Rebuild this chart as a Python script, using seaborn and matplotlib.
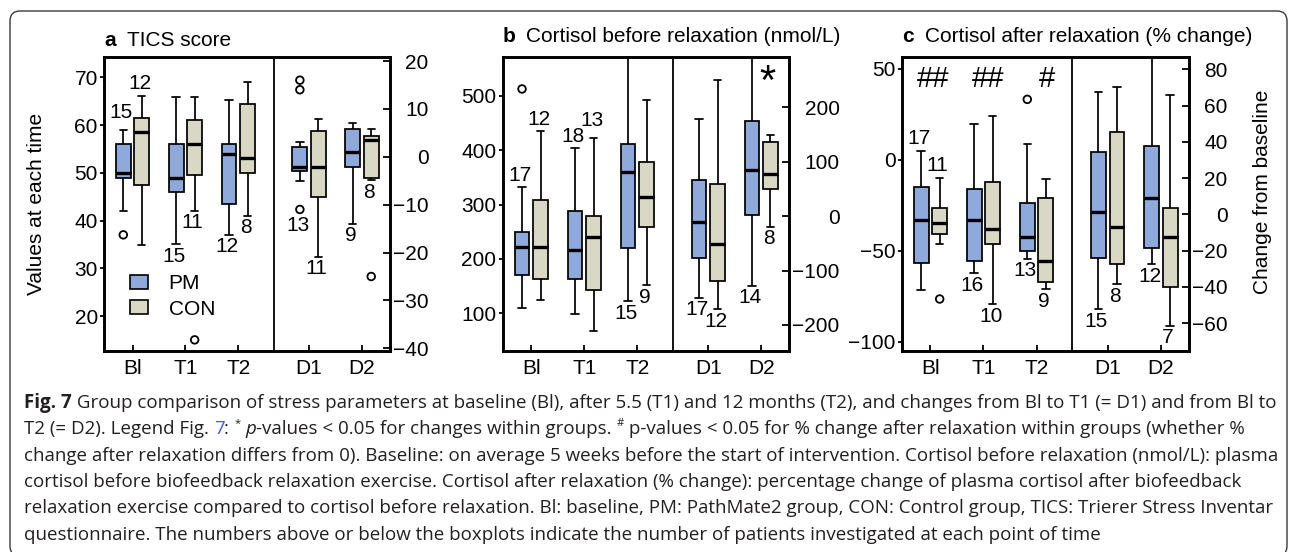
import numpy as np
import pandas as pd
import matplotlib
matplotlib.use("Agg")
import matplotlib.pyplot as plt
import seaborn as sns
from matplotlib.patches import Patch, FancyBboxPatch
from matplotlib.transforms import IdentityTransform

# ---------------- data ----------------
TIMES = ["Bl", "T1", "T2", "D1", "D2"]
GROUPS = ["PM", "CON"]

# five-number summaries per time point: [lower whisker, Q1, median, Q3, upper whisker]
TICS_PM = [[42.0, 48.9, 50.0, 56.0, 59.0], [35.0, 46.0, 49.0, 56.0, 65.9], [37.0, 43.5, 54.0, 56.0, 65.2],
           [-5.0, -3.0, -2.2, 2.0, 3.0], [-14.0, -2.1, 1.0, 5.9, 7.1]]
TICS_CON = [[34.9, 47.5, 58.5, 61.5, 66.1], [42.0, 49.5, 56.0, 61.1, 65.9], [41.0, 50.0, 53.0, 64.5, 69.0],
            [-20.9, -8.5, -2.1, 5.4, 7.8], [-4.9, -4.5, 3.5, 4.4, 5.9]]
TICS_PM_OUT = [[37.0], [], [], [16.0, 14.0, -11.0], []]
TICS_CON_OUT = [[], [15.0], [], [], [-25.0]]
TICS_N_PM = [15, 15, 12, 13, 9]
TICS_N_CON = [12, 11, 8, 11, 8]

CORT_PM = [[110.3, 170.4, 221.3, 248.9, 331.6], [99.3, 163.1, 216.4, 288.6, 403.9], [122.6, 219.5, 359.2, 412.5, 600.0],
           [-149.8, -77.4, -10.2, 66.4, 178.0], [-127.7, 1.6, 84.8, 174.8, 320.0]]
CORT_CON = [[125.0, 162.5, 221.3, 308.3, 435.1], [68.0, 142.2, 239.7, 278.9, 422.8], [151.5, 258.1, 313.2, 377.6, 493.4],
            [-171.1, -119.1, -51.7, 59.6, 250.7], [-19.4, 49.3, 78.0, 136.8, 149.7]]
CORT_PM_OUT = [[512.9], [], [], [], []]
CORT_CON_OUT = [[], [], [], [], []]
CORT_N_PM = [17, 18, 15, 17, 14]
CORT_N_CON = [12, 13, 9, 12, 8]

RELAX_PM = [[-71.6, -56.9, -33.1, -14.7, 5.1], [-62.4, -55.6, -33.2, -16.0, 19.6], [-54.5, -50.3, -42.6, -23.5, 8.9],
            [-52.3, -23.9, 1.5, 34.6, 67.3], [-27.5, -18.3, 8.9, 37.7, 95.0]]
RELAX_CON = [[-46.4, -40.9, -34.5, -26.3, -9.8], [-79.3, -46.4, -38.2, -12.3, 24.1], [-71.2, -67.3, -55.4, -21.1, -10.5],
             [-38.4, -27.5, -7.1, 45.4, 70.4], [-61.3, -39.8, -12.3, 3.7, 66.0]]
RELAX_PM_OUT = [[], [], [33.3], [], []]
RELAX_CON_OUT = [[-76.5], [], [], [], []]
RELAX_N_PM = [17, 16, 13, 15, 12]
RELAX_N_CON = [11, 10, 9, 8, 7]

CORT_MARKS = [("D2", "*")]
RELAX_MARKS = [("Bl", "##"), ("T1", "##"), ("T2", "#")]

CAPTION = [
    [("Fig. 7", "b"), (" Group comparison of stress parameters at baseline (Bl), after 5.5 (T1) and 12 months (T2), "
                       "and changes from Bl to T1 (= D1) and from Bl to", "n")],
    [("T2 (= D2). Legend Fig. ", "n"), ("7", "link"), (": ", "n"), ("*", "sup"), (" ", "n"), ("p", "i"),
     ("-values < 0.05 for changes within groups. ", "n"), ("#", "sup"),
     (" p-values < 0.05 for % change after relaxation within groups (whether %", "n")],
    [("change after relaxation differs from 0). Baseline: on average 5 weeks before the start of intervention. "
      "Cortisol before relaxation (nmol/L): plasma", "n")],
    [("cortisol before biofeedback relaxation exercise. Cortisol after relaxation (% change): percentage change "
      "of plasma cortisol after biofeedback", "n")],
    [("relaxation exercise compared to cortisol before relaxation. Bl: baseline, PM: PathMate2 group, CON: Control "
      "group, TICS: Trierer Stress Inventar", "n")],
    [("questionnaire. The numbers above or below the boxplots indicate the number of patients investigated at "
      "each point of time", "n")],
]

# ---------------- layout / style ----------------
W, H = 1290, 552
FS = 15
PALETTE = {"PM": "#8FA9DB", "CON": "#D8D8C5"}
TIME_POS = {"Bl": 0.0, "T1": 1.0, "T2": 2.0, "D1": 3.34, "D2": 4.34}
DODGE = {"PM": -0.175, "CON": 0.175}
LEFT_TIMES = ["Bl", "T1", "T2"]
RIGHT_TIMES = ["D1", "D2"]
DIVIDER = 2.67
XLIM = (-0.54, 4.87)

sns.set_theme(style="ticks", rc={
    "axes.edgecolor": "black", "text.color": "black", "xtick.color": "black",
    "ytick.color": "black", "axes.labelcolor": "black"})
plt.rcParams["font.family"] = ["Liberation Sans", "DejaVu Sans"]

PANELS = [
    dict(key="a", title="TICS score", rect=(104, 57, 390, 351), title_base=46.5,
         pm=TICS_PM, con=TICS_CON, pm_out=TICS_PM_OUT, con_out=TICS_CON_OUT,
         n_pm=TICS_N_PM, n_con=TICS_N_CON,
         lab_pm=["A", "b", "b", "o", "b"], lab_con=["a", "b", "b", "b", "b"],
         ylim_l=(12.67, 74.25), ylim_r=(-40.56, 20.84),
         yt_l=[20, 30, 40, 50, 60, 70], yt_r=[-40, -30, -20, -10, 0, 10, 20], marks=[], mark_kw={}),
    dict(key="b", title="Cortisol before relaxation (nmol/L)", rect=(502.7, 57, 789.3, 351), title_base=42.3,
         pm=CORT_PM, con=CORT_CON, pm_out=CORT_PM_OUT, con_out=CORT_CON_OUT,
         n_pm=CORT_N_PM, n_con=CORT_N_CON,
         lab_pm=["a", "a", "b", "b", "b"], lab_con=["a", "A", "b", "b", "b"],
         ylim_l=(30.7, 571.7), ylim_r=(-247.8, 292.4),
         yt_l=[100, 200, 300, 400, 500], yt_r=[-200, -100, 0, 100, 200],
         marks=CORT_MARKS, mark_kw=dict(dx={"D2": 0.11}, y=245.0, size=30, right=True)),
    dict(key="c", title="Cortisol after relaxation (% change)", rect=(901.7, 57, 1189, 351), title_base=42.3,
         pm=RELAX_PM, con=RELAX_CON, pm_out=RELAX_PM_OUT, con_out=RELAX_CON_OUT,
         n_pm=RELAX_N_PM, n_con=RELAX_N_CON,
         lab_pm=["a", "b", "b", "b", "b"], lab_con=["a", "b", "b", "b", "b"],
         ylim_l=(-105.1, 56.6), ylim_r=(-75.3, 86.8),
         yt_l=[-100, -50, 0, 50], yt_r=[-60, -40, -20, 0, 20, 40, 60, 80],
         marks=RELAX_MARKS, mark_kw=dict(dx={"Bl": 0.06, "T1": 0.08, "T2": 0.2}, y=44.5, size=21, right=False)),
]

fig = plt.figure(figsize=(W / 100, H / 100), dpi=100)


def fx(x):
    return x / W


def fy(y):
    return 1 - y / H


right_axes = []
for p in PANELS:
    l, t, r, b = p["rect"]
    ax = fig.add_axes([fx(l), fy(b), (r - l) / W, (b - t) / H])
    ax2 = ax.twinx()
    right_axes.append(ax2)

    rows, orows = [], []
    for i, tm in enumerate(TIMES):
        for g, summ, outs in (("PM", p["pm"][i], p["pm_out"][i]), ("CON", p["con"][i], p["con_out"][i])):
            for v in summ:
                rows.append((tm, TIME_POS[tm], g, v))
            for v in outs:
                orows.append((tm, TIME_POS[tm] + DODGE[g], g, v))
    df = pd.DataFrame(rows, columns=["time", "pos", "group", "value"])
    odf = pd.DataFrame(orows, columns=["time", "pos", "group", "value"])

    box_kw = dict(x="pos", y="value", hue="group", hue_order=GROUPS, palette=PALETTE, saturation=1,
                  native_scale=True, dodge=True, width=0.7, gap=0.2, whis=np.inf,
                  linecolor="black", linewidth=1.25, medianprops=dict(linewidth=2.4), legend=False)
    for axis, times in ((ax, LEFT_TIMES), (ax2, RIGHT_TIMES)):
        sns.boxplot(data=df[df.time.isin(times)], ax=axis, **box_kw)
        sub = odf[odf.time.isin(times)]
        if len(sub):
            sns.scatterplot(data=sub, x="pos", y="value", ax=axis, marker="o", s=30,
                            facecolors="none", edgecolor="black", linewidth=1.3, legend=False, zorder=5)

    # number of patients
    for i, tm in enumerate(TIMES):
        axis = ax if tm in LEFT_TIMES else ax2
        for g, summ, outs, n, plc in (("PM", p["pm"][i], p["pm_out"][i], p["n_pm"][i], p["lab_pm"][i]),
                                      ("CON", p["con"][i], p["con_out"][i], p["n_con"][i], p["lab_con"][i])):
            xg = TIME_POS[tm] + DODGE[g]
            if plc == "a":
                yv, dy = summ[4], 12
            elif plc == "A":
                yv, dy = summ[4], 17
            elif plc == "b":
                yv, dy = summ[0], -12
            else:
                yv, dy = min(outs), -16
            axis.annotate(str(n), (xg, yv), xytext=(-2, dy), textcoords="offset pixels",
                          ha="center", va="center", fontsize=FS, annotation_clip=False)

    # significance marks
    for tm, txt in p["marks"]:
        mk = p["mark_kw"]
        axis = ax2 if mk["right"] else ax
        axis.text(TIME_POS[tm] + mk["dx"][tm], mk["y"], txt, ha="center", va="center", fontsize=mk["size"])

    ax.axvline(DIVIDER, color="black", lw=1.3)
    ax.set_xlim(XLIM)
    ax.set_ylim(p["ylim_l"])
    ax2.set_ylim(p["ylim_r"])
    ax.set_yticks(p["yt_l"])
    ax2.set_yticks(p["yt_r"])
    ax.set_xticks([TIME_POS[tm] for tm in TIMES])
    ax.set_xticklabels(TIMES)
    for a in (ax, ax2):
        a.set_xlabel("")
        a.set_ylabel("")
        for s in a.spines.values():
            s.set_linewidth(1.9)
            s.set_visible(True)
    ax.tick_params(axis="y", direction="out", length=3, width=1.3, pad=1.5, labelsize=FS)
    ax.tick_params(axis="x", direction="in", length=4, width=1.3, pad=6, labelsize=FS)
    ax2.tick_params(axis="y", direction="in", length=5, width=1.3, labelsize=FS)

    fig.text(fx(l), fy(p["title_base"]), p["key"], weight="bold", fontsize=FS, va="baseline", ha="left")
    fig.text(fx(l + 23), fy(p["title_base"]), p["title"], fontsize=FS, va="baseline", ha="left")

    if p["key"] == "a":
        handles = [Patch(facecolor=PALETTE[g], edgecolor="black", linewidth=1.2, label=g) for g in GROUPS]
        ax.legend(handles=handles, loc="upper left", bbox_to_anchor=(0.091, 0.262), frameon=False,
                  handlelength=0.85, handleheight=0.68, handletextpad=1.0, labelspacing=0.32,
                  borderpad=0, borderaxespad=0, fontsize=FS)

fig.text(fx(37), fy(204), "Values at each time", rotation=90, ha="center", va="center", fontsize=FS)
fig.text(fx(1262), fy(192), "Change from baseline", rotation=90, ha="center", va="center", fontsize=FS)

# right axis labels: right-aligned, block starting just after the spine
fig.canvas.draw()
renderer = fig.canvas.get_renderer()
for ax2 in right_axes:
    labs = ax2.get_yticklabels()
    wmax = max(lb.get_window_extent(renderer).width for lb in labs)
    ax2.tick_params(axis="y", pad=(wmax + 3) * 72 / 100)
    plt.setp(ax2.get_yticklabels(), ha="right")

# ---------------- caption ----------------
CAP_FONT = ["Open Sans", "DejaVu Sans"]
CAP_COLOR = "#231F20"
LINK_COLOR = "#3F5BD8"


def cap_style(kind, size):
    d = dict(family=CAP_FONT, fontsize=size, color=CAP_COLOR)
    if kind == "b":
        d["weight"] = "bold"
    elif kind == "i":
        d["style"] = "italic"
    elif kind == "link":
        d["color"] = LINK_COLOR
    elif kind == "sup":
        d["fontsize"] = size * 0.6
    return d


def seg_w(text, kind, size):
    st = cap_style(kind, size)
    t1 = fig.text(0, 0, "|" + text + "|", **st)
    t2 = fig.text(0, 0, "||", **st)
    w = t1.get_window_extent(renderer).width - t2.get_window_extent(renderer).width
    t1.remove()
    t2.remove()
    return w


base = 12.0
w1 = sum(seg_w(txt, k, base) for txt, k in CAPTION[0])
cap_size = base * (1268 - 24) / w1

for li, segs in enumerate(CAPTION):
    yb = 408 + 26.3 * li
    x = 24
    for txt, k in segs:
        st = cap_style(k, cap_size)
        yy = yb - (0.45 * cap_size * 100 / 72 if k == "sup" else 0)
        fig.text(fx(x), fy(yy), txt, va="baseline", ha="left", **st)
        x += seg_w(txt, k, cap_size)

border = FancyBboxPatch((10, -4), 1277, 545, boxstyle="round,pad=0,rounding_size=10",
                        transform=IdentityTransform(), fill=False, edgecolor="#3a3a3a", linewidth=1.0)
fig.add_artist(border)

fig.savefig("out.png", dpi=100)
